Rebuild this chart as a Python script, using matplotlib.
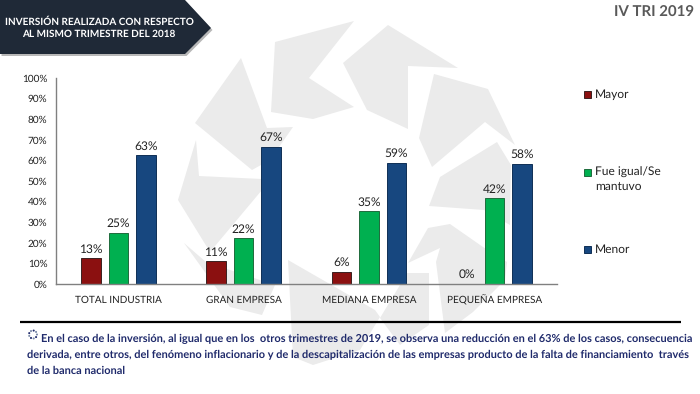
import matplotlib
matplotlib.use("Agg")
import matplotlib.pyplot as plt
from matplotlib.patches import Polygon, Rectangle
import numpy as np

categories = ["TOTAL INDUSTRIA", "GRAN EMPRESA", "MEDIANA EMPRESA", "PEQUEÑA EMPRESA"]
mayor = [12.5, 11.1, 5.9, 0.0]
igual = [25.0, 22.2, 35.3, 41.7]
menor = [62.5, 66.7, 58.8, 58.3]
mayor_labels = ["13%", "11%", "6%", "0%"]
igual_labels = ["25%", "22%", "35%", "42%"]
menor_labels = ["63%", "67%", "59%", "58%"]
yticks = list(range(0, 101, 10))
legend_labels = ["Mayor", "Fue igual/Se\nmantuvo", "Menor"]
title_lines = "INVERSIÓN REALIZADA CON RESPECTO\nAL MISMO TRIMESTRE DEL 2018"
period = "IV TRI 2019"
note_lines = [
    "En el caso de la inversión, al igual que en los  otros trimestres de 2019, se observa una reducción en el 63% de los casos, consecuencia",
    "derivada, entre otros, del fenómeno inflacionario y de la descapitalización de las empresas producto de la falta de financiamiento  través",
    "de la banca nacional",
]

plt.rcParams["font.family"] = ["Lato", "DejaVu Sans"]
plt.rcParams["text.hinting"] = "no_hinting"
plt.rcParams["text.hinting_factor"] = 1
W, H = 700, 394
fig = plt.figure(figsize=(W / 100, H / 100), dpi=100, facecolor="white")

# Background layer in pixel coordinates
bg = fig.add_axes([0, 0, 1, 1], zorder=0)
bg.set_xlim(0, W); bg.set_ylim(H, 0); bg.axis("off")

watermark = [
    [(241,58),(195,123),(252,170),(270,160),(293,127),(267,128)],
    [(275,42),(354,21),(309,78),(354,107),(313,119),(271,112)],
    [(388,25),(343,63),(367,110),(408,129),(408,66),(458,68)],
    [(434,74),(488,89),(515,145),(485,122),(432,167),(419,138)],
    [(497,142),(440,177),(429,206),(484,210),(510,225),(511,165)],
    [(408,263),(428,228),(450,224),(483,247),(507,262),(505,280),(473,312),(445,333),(436,262),(440,248)],
    [(196,140),(178,200),(210,252),(262,190),(262,179),(199,176)],
    [(184,243),(230,307),(262,315),(275,285),(206,262)],
    [(288,260),(375,310),(380,317),(360,350),(313,365),(293,357)],
    [(407,273),(429,273),(429,325),(400,345),(380,318),(400,285)],
]
for pts in watermark:
    bg.add_patch(Polygon(pts, closed=True, fc="#ebebeb", ec="none"))

# Banner with shadow
banner = [(0,0),(185,0),(211,28),(185,54),(0,54)]
bg.add_patch(Polygon([(x+1.5, y+2) for x, y in banner], closed=True, fc="#9a9a9a", ec="none", alpha=0.7))
bg.add_patch(Polygon(banner, closed=True, fc="#1f2937", ec="none"))
bg.text(99, 27.5, title_lines, color="white", fontsize=7.13, fontweight="bold",
        ha="center", va="center", linespacing=1.4)
bg.text(694, 13, period, color="#595959", fontsize=10.6, fontweight="bold", ha="right", va="center")

# Footer
bg.plot([20, 681], [322, 322], color="black", lw=1.6, solid_capstyle="butt")
note_y = [339, 354.5, 370.5]
note_x = [41, 27, 27]
for x, y, s in zip(note_x, note_y, note_lines):
    bg.text(x, y, s, color="#1f2a6b", fontsize=8.05, fontweight="bold", ha="left", va="center")
theta = np.deg2rad(np.arange(0, 360, 40))
bg.scatter(33 + 4 * np.cos(theta), 334.5 + 4 * np.sin(theta), s=2.2,
           c=["#1f2a6b" if i % 2 else "#7a8aa8" for i in range(len(theta))], linewidths=0)

# Main chart
left, right, top, bottom = 55.7, 557, 78, 284
ax = fig.add_axes([left / W, 1 - bottom / H, (right - left) / W, (bottom - top) / H], zorder=1)
ax.patch.set_alpha(0)
x = np.arange(len(categories))
ax.set_xlim(-0.5, len(categories) - 0.5)
ax.set_ylim(0, 100)
bw, off = 19.5 / 125.3, 27.5 / 125.3
colors = ["#8b1010", "#00b050", "#17477f"]
edges = ["#3a2020", "#1f6b3c", "#0f2f55"]
for s, labs, d, c, e in zip([mayor, igual, menor],
                            [mayor_labels, igual_labels, menor_labels],
                            [-off, 0, off], colors, edges):
    bars = ax.bar(x + d, s, bw, color=c, edgecolor=e, linewidth=0.7)
    ax.bar_label(bars, labels=labs, padding=2.6, fontsize=8.8, color="#222222")
ax.set_xticks(x, categories, va="baseline")
ax.set_yticks(yticks, [f"{t}%" for t in yticks])
ax.tick_params(axis="both", length=0, labelcolor="#222222")
ax.tick_params(axis="x", labelsize=7.1, pad=13.7)
ax.tick_params(axis="y", labelsize=6.9, pad=6)
for sp in ("top", "right"):
    ax.spines[sp].set_visible(False)
for sp in ("left", "bottom"):
    ax.spines[sp].set_color("#808080"); ax.spines[sp].set_linewidth(1.0)

# Legend
leg_y = [94.5, 172.5, 249.5]
for y, c, e, lab in zip(leg_y, colors, edges, legend_labels):
    bg.add_patch(Rectangle((583.5, y - 3.5), 7, 7, fc=c, ec=e, lw=0.7))
    if "\n" in lab:
        bg.text(595, y - 5.5, lab, fontsize=8.5, color="#222222", ha="left", va="top", linespacing=1.35)
    else:
        bg.text(595, y + 0.5, lab, fontsize=8.5, color="#222222", ha="left", va="center")

fig.savefig("out.png", dpi=100)
